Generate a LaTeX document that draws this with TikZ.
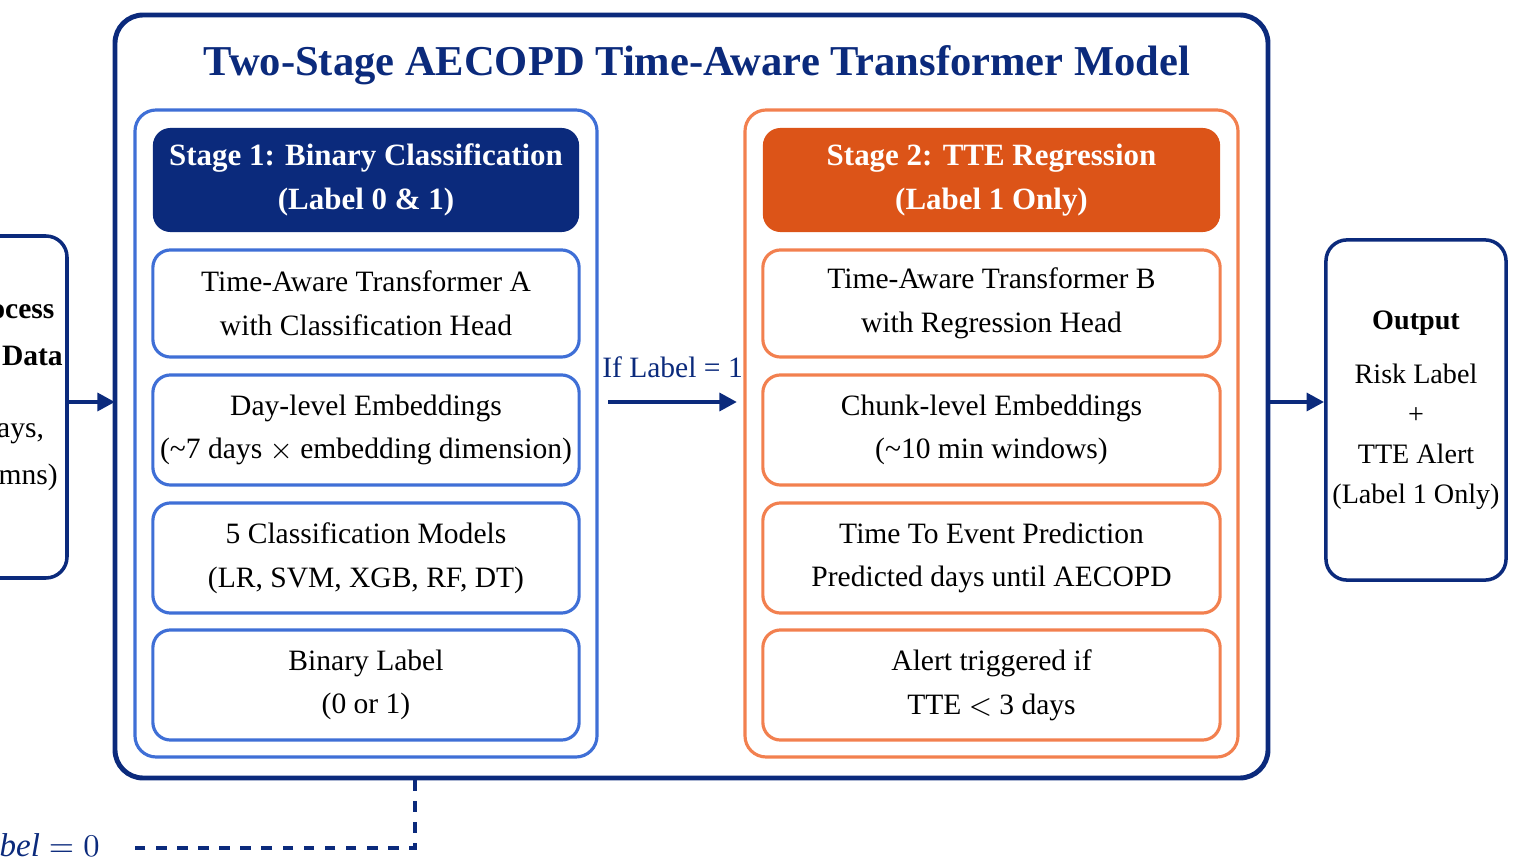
\documentclass[tikz,border=0pt]{standalone}
\usepackage{fontspec}
\setmainfont{Liberation Serif}
\usetikzlibrary{arrows.meta}
\definecolor{navy}{HTML}{0B2A7C}
\definecolor{lblue}{HTML}{3F6FD6}
\definecolor{dorange}{HTML}{DC5418}
\definecolor{lorange}{HTML}{F2804F}
\tikzset{
  panel/.style={draw=lblue,line width=0.9pt,rounded corners=6pt},
  item/.style={draw=lblue,line width=0.9pt,rounded corners=5pt,align=center,inner sep=1pt,font=\fontsize{8.4}{12.4}\selectfont},
  head/.style={fill=navy,rounded corners=5pt,align=center,inner sep=1pt,text=white,font=\fontsize{8.8}{12.4}\selectfont\bfseries},
  flow/.style={-{Triangle[length=5pt,width=5pt]},navy,line width=1.3pt}
}
\begin{document}
\begin{tikzpicture}[x=0.01cm,y=-0.01cm]
\useasboundingbox (0,0) rectangle (1536,864);
\clip (0,0) rectangle (1536,864);
% outer frame
\draw[navy,line width=1.4pt,rounded corners=8pt] (115,15) rectangle (1268,778);
\node[font=\fontsize{12.1}{14}\selectfont\bfseries,text=navy] (title) at (697,65) {Two-Stage AECOPD Time-Aware Transformer Model};
% input (cut off)
\draw[navy,line width=1pt,rounded corners=6pt] (-100,236) rectangle (67,578);
\node[align=center,font=\fontsize{8.4}{12.4}\selectfont] (inp) at (-14,395) {\textbf{Preprocess}\\[1pt]\textbf{Sensor Data}\\[8pt](\textasciitilde N days,\\[1pt]M columns)};
% stage 1
\draw[panel] (135,110) rectangle (597,757);
\node[head,minimum width=4.26cm,minimum height=1.04cm] (h1) at (366,180) {Stage 1: Binary Classification\\(Label 0 \& 1)};
\node[item,minimum width=4.26cm,minimum height=1.07cm] (a1) at (366,303.5) {Time-Aware Transformer A\\with Classification Head};
\node[item,minimum width=4.26cm,minimum height=1.1cm] (a2) at (366,430) {Day-level Embeddings\\(\textasciitilde7 days $\times$ embedding dimension)};
\node[item,minimum width=4.26cm,minimum height=1.1cm] (a3) at (366,558) {5 Classification Models\\(LR, SVM, XGB, RF, DT)};
\node[item,minimum width=4.26cm,minimum height=1.1cm] (a4) at (366,685) {Binary Label\\(0 or 1)};
% stage 2
\draw[panel,draw=lorange] (745,110) rectangle (1238,757);
\node[head,fill=dorange,minimum width=4.57cm,minimum height=1.04cm] (h2) at (991.5,180) {Stage 2: TTE Regression\\(Label 1 Only)};
\node[item,draw=lorange,minimum width=4.57cm,minimum height=1.07cm] (b1) at (991.5,303.5) {Time-Aware Transformer B\\with Regression Head};
\node[item,draw=lorange,minimum width=4.57cm,minimum height=1.1cm] (b2) at (991.5,430) {Chunk-level Embeddings\\(\textasciitilde10 min windows)};
\node[item,draw=lorange,minimum width=4.57cm,minimum height=1.1cm] (b3) at (991.5,558) {Time To Event Prediction\\Predicted days until AECOPD};
\node[item,draw=lorange,minimum width=4.57cm,minimum height=1.1cm] (b4) at (991.5,685) {Alert triggered if\\TTE $<$ 3 days};
% output
\node[draw=navy,line width=1pt,rounded corners=6pt,inner sep=1pt,minimum width=1.8cm,minimum height=3.4cm,align=center,font=\fontsize{8}{11.4}\selectfont] (out) at (1416,410) {\textbf{Output}\\[4pt]Risk Label\\+\\TTE Alert\\(Label 1 Only)};
% connectors
\coordinate (s1) at (608,402);
\coordinate (s2) at (737,402);
\draw[flow] (s1) -- node[above=3pt,text=navy,font=\fontsize{8.4}{10}\selectfont] {If Label = 1} (s2);
\draw[flow] (67,402) -- (115,402);
\draw[flow] (1268,402) -- (out.west |- 0,402);
\coordinate (d0) at (415,780);
\coordinate (d1) at (415,848);
\coordinate (d2) at (135,848);
\node[anchor=east,text=navy,font=\fontsize{9.4}{12}\selectfont] (lab0) at (112,845) {If $\mathit{Label} = 0$};
\draw[navy,dashed,line width=1pt] (d0) -- (d1) -- (d2);
\end{tikzpicture}
\end{document}
